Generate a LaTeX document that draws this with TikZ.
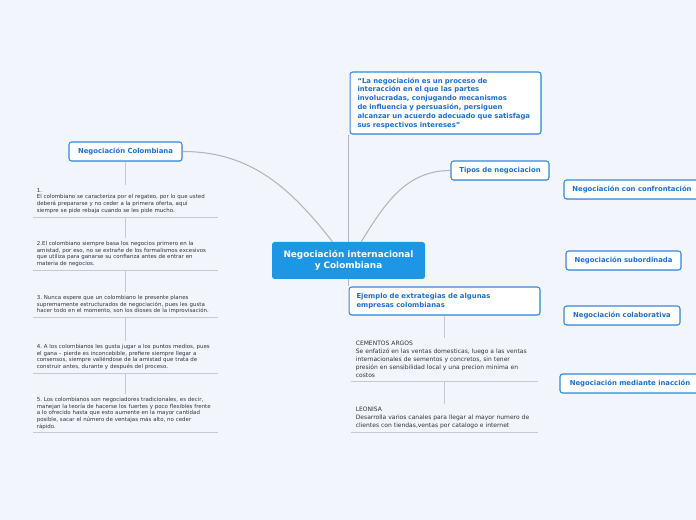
\documentclass[tikz,border=0pt]{standalone}
\usepackage{fontspec}
\setmainfont{DejaVu Sans}
\usepackage{tikz}
\usetikzlibrary{positioning, shadows}
\definecolor{bgblue}{RGB}{243, 245, 253}
\definecolor{mainblue}{RGB}{30, 150, 230}
\definecolor{edgeblue}{RGB}{52, 136, 222}
\definecolor{textblue}{RGB}{27, 112, 210}
\definecolor{linkgray}{RGB}{180, 180, 188}
\definecolor{rulegray}{RGB}{200, 200, 210}
\definecolor{bodygray}{RGB}{50, 50, 55}
\frenchspacing

\tikzset{
    topic/.style={draw=edgeblue, line width=0.8pt, fill=white, rounded corners=2pt,
        text=textblue, font=\fontsize{5.15}{6.6}\selectfont\bfseries, inner sep=0pt,
        minimum height=14.25pt,
        drop shadow={shadow xshift=0.5pt, shadow yshift=-0.6pt, opacity=0.2}},
    widetopic/.style={topic, align=left, text width=132pt, inner xsep=5.6pt},
    item/.style={anchor=north, text width=133pt, inner xsep=3pt, inner ysep=2.2pt,
        align=left, text=bodygray, font=\fontsize{4.1}{5.1}\selectfont},
    example/.style={item, text width=133pt, inner xsep=3.75pt,
        font=\fontsize{4.5}{6}\selectfont},
    link/.style={draw=linkgray, line width=0.8pt},
    underline/.style={draw=rulegray, line width=0.6pt}
}

\begin{document}
\begin{tikzpicture}[x=0.75pt, y=-0.75pt]
    % Background
    \fill[bgblue] (0,0) rectangle (696,520);
    \useasboundingbox (0,0) rectangle (696,520);

    % Central topic
    \node[fill=mainblue, rounded corners=2pt, text=white, align=center,
        font=\fontsize{6.65}{8.3}\selectfont\bfseries,
        minimum width=114.75pt, minimum height=27.75pt, inner sep=0pt]
        (main) at (348.5,260.5) {Negociación internacional\\y Colombiana};

    % Definition
    \node[widetopic, minimum height=46.5pt] (quote) at (445.5,103)
        {“La negociación es un proceso de\\
        interacción en el que las partes\\
        involucradas, conjugando mecanismos\\
        de influencia y persuasión, persiguen\\
        alcanzar un acuerdo adecuado que satisfaga\\
        sus respectivos intereses”};

    % Main branches
    \node[topic, minimum width=84.75pt] (colomb) at (125.5,151.5) {Negociación Colombiana};
    \node[topic, minimum width=73.5pt] (tipos) at (500,170.5) {Tipos de negociacion};
    \node[widetopic, minimum height=21pt] (ejemplo) at (444.5,301)
        {Ejemplo de extrategias de algunas\\empresas colombianas};

    % Types of negotiation
    \node[topic, minimum width=102pt] (confront) at (632,189.5) {Negociación con confrontación};
    \node[topic, minimum width=86.25pt] (subord) at (623.5,260.5) {Negociación subordinada};
    \node[topic, minimum width=87pt] (colab) at (622,315.5) {Negociación colaborativa};
    \node[topic, minimum width=105pt] (inaccion) at (630,383.5) {Negociación mediante inacción};

    % Colombian negotiator traits
    \node[item] (i1) at (125.5,185) {1.\\El colombiano se caracteriza por el regateo, por lo que usted\\deberá prepararse y no ceder a la primera oferta, aquí\\siempre se pide rebaja cuando se les pide mucho.};
    \node[item] (i2) at (125.5,238) {2.El colombiano siempre basa los negocios primero en la\\amistad, por eso, no se extrañe de los formalismos excesivos\\que utiliza para ganarse su confianza antes de entrar en\\materia de negocios.};
    \node[item] (i3) at (125.5,292) {3. Nunca espere que un colombiano le presente planes\\supremamente estructurados de negociación, pues les gusta\\hacer todo en el momento, son los dioses de la improvisación.};
    \node[item] (i4) at (125.5,341) {4. A los colombianos les gusta jugar a los puntos medios, pues\\el gana – pierde es inconcebible, prefiere siempre llegar a\\consensos, siempre valiéndose de la amistad que trata de\\construir antes, durante y después del proceso.};
    \node[item] (i5) at (125.5,394) {5. Los colombianos son negociadores tradicionales, es decir,\\manejan la teoría de hacerse los fuertes y poco flexibles frente\\a lo ofrecido hasta que esto aumente en la mayor cantidad\\posible, sacar el número de ventajas más alto, no ceder\\rápido.};

    % Company examples
    \node[example] (argos) at (444.5,338) {CEMENTOS ARGOS\\Se enfatizó en las ventas domesticas, luego a las ventas\\internacionales de sementos y concretos, sin tener\\presión en sensibilidad local y una precion minima en\\costos};
    \node[example] (leonisa) at (444.5,404) {LEONISA\\Desarrolla varios canales para llegar al mayor numero de\\clientes con tiendas,ventas por catalogo e internet};

    % Connectors
    \draw[link] (colomb.east) to[out=0, in=128] ([xshift=-12pt]main.north);
    \draw[link] ([xshift=9.5pt]main.north) to[out=58, in=180] (tipos.west);
    \draw[link] (main.north) -- (main.north |- quote.south);
    \draw[link] (main.south) -- (main.south |- ejemplo.north);
    \foreach \a/\b in {colomb/i1, i1/i2, i2/i3, i3/i4, i4/i5, ejemplo/argos, argos/leonisa} {
        \draw[link, draw=rulegray] (\a.south) -- (\b.north);
    }
    \foreach \n in {i1, i2, i3, i4, i5, argos, leonisa} {
        \draw[underline] (\n.south west) -- (\n.south east);
    }
\end{tikzpicture}
\end{document}
